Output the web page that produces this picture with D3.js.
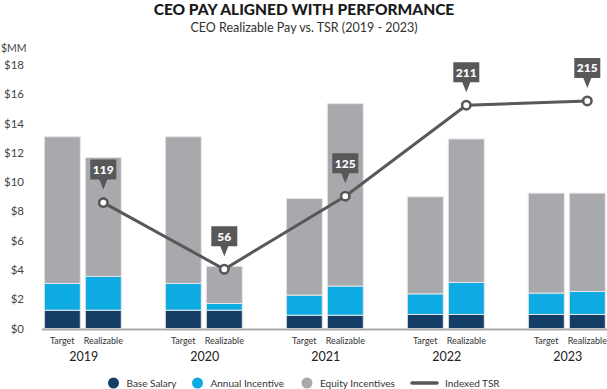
<!DOCTYPE html>
<html>
<head>
<meta charset="utf-8">
<script src="https://cdn.jsdelivr.net/npm/d3@7"></script>
<style>
  body { margin: 0; background: #fff; }
  text { font-family: Lato, "Noto Sans", sans-serif; fill: #333; }
</style>
</head>
<body>
<div id="chart"></div>
<script>
// CEO pay vs TSR, stacked bars + TSR line on a hidden 2nd scale

var years = ["2019", "2020", "2021", "2022", "2023"];
var kinds = ["Target", "Realizable"];
var seriesNames = ["Base Salary", "Annual Incentive", "Equity Incentives"];

// $MM, one entry per bar (year x kind)
var baseSalary = [1.25, 1.25, 1.25, 1.25, 0.91, 0.91, 0.96, 0.96, 0.96, 0.96];
var annualIncentive = [1.83, 2.31, 1.83, 0.46, 1.37, 1.99, 1.41, 2.19, 1.46, 1.57];
var equityIncentives = [10.02, 8.12, 10.02, 2.54, 6.6, 12.46, 6.63, 9.8, 6.83, 6.72];

var tsr = [119, 56, 125, 211, 215];
var yTicks = [0, 2, 4, 6, 8, 10, 12, 14, 16, 18];

var colors = ["#153e66", "#0eaae2", "#a7a9ac"];
var lineColor = "#58585a";

var width = 607, height = 389;
var margin = {top: 65, left: 43, bottom: 61};

var svg = d3.select("#chart").append("svg")
  .attr("width", width).attr("height", height);

// title
svg.append("text").attr("x", 304).attr("y", 15)
  .attr("text-anchor", "middle")
  .style("font-size", "15.5px").style("font-weight", 900).style("fill", "#1a1a1a")
  .text("CEO PAY ALIGNED WITH PERFORMANCE");
svg.append("text").attr("x", 304).attr("y", 32)
  .attr("text-anchor", "middle")
  .style("font-size", "12.5px").style("fill", "#333")
  .text("CEO Realizable Pay vs. TSR (2019 - 2023)");
svg.append("text").attr("x", 1).attr("y", 52)
  .style("font-size", "10.5px").style("fill", "#444")
  .text("$MM");

var y = d3.scaleLinear().domain([0, 18]).range([height - margin.bottom + 0.5, margin.top]);
var yTsr = d3.scaleLinear().domain([0, 249]).range([height - margin.bottom + 0.5, margin.top]);

var x0 = d3.scaleBand().domain(years).range([23, 628]);
var x1 = d3.scaleBand().domain(kinds).range([21.3, 98.3]).paddingInner(5 / 41);

// y axis labels
svg.append("g").selectAll("text").data(yTicks).enter().append("text")
  .attr("x", 24).attr("y", function(d) { return y(d) + 4; })
  .attr("text-anchor", "end")
  .style("font-size", "11.5px").style("fill", "#444")
  .text(function(d) { return "$" + d; });

// build rows for stacking
var rows = [];
years.forEach(function(yr, i) {
  kinds.forEach(function(k, j) {
    var idx = i * 2 + j;
    rows.push({year: yr, kind: k,
      "Base Salary": baseSalary[idx],
      "Annual Incentive": annualIncentive[idx],
      "Equity Incentives": equityIncentives[idx]});
  });
});

var stack = d3.stack().keys(seriesNames)(rows);

svg.append("g").selectAll("g").data(stack).enter().append("g")
  .attr("fill", function(d, i) { return colors[i]; })
  .selectAll("rect").data(function(d) { return d; }).enter().append("rect")
  .attr("x", function(d) { return x0(d.data.year) + x1(d.data.kind); })
  .attr("width", x1.bandwidth())
  .attr("y", function(d) { return y(d[1]); })
  .attr("height", function(d) { return y(d[0]) - y(d[1]); })
  .attr("stroke", "#e6e7e8").attr("stroke-width", 1);

// baseline
svg.append("line").attr("x1", 42).attr("x2", width)
  .attr("y1", y(0) + 1).attr("y2", y(0) + 1)
  .attr("stroke", "#aaaaaa").attr("stroke-width", 2);

// category labels
svg.append("g").selectAll("text").data(rows).enter().append("text")
  .attr("x", function(d) { return x0(d.year) + x1(d.kind) + x1.bandwidth() / 2; })
  .attr("y", 344)
  .attr("text-anchor", "middle")
  .style("font-size", "9px").style("fill", "#333")
  .text(function(d) { return d.kind; });

svg.append("g").selectAll("text").data(years).enter().append("text")
  .attr("x", function(d) { return x0(d) + x1.range()[0] + (x1.range()[1] - x1.range()[0]) / 2 + 1; })
  .attr("y", 361)
  .attr("text-anchor", "middle")
  .style("font-size", "12.5px").style("fill", "#222")
  .text(function(d) { return d; });

// TSR line
var pts = years.map(function(yr, i) {
  return {x: x0(yr) + x1("Realizable") + x1.bandwidth() / 2, y: yTsr(tsr[i]), v: tsr[i]};
});

svg.append("path").datum(pts)
  .attr("d", d3.line().x(function(d) { return d.x; }).y(function(d) { return d.y; }))
  .attr("fill", "none").attr("stroke", lineColor).attr("stroke-width", 3);

svg.append("g").selectAll("circle").data(pts).enter().append("circle")
  .attr("cx", function(d) { return d.x; }).attr("cy", function(d) { return d.y; })
  .attr("r", 4.2).attr("fill", "#fff")
  .attr("stroke", lineColor).attr("stroke-width", 2.6);

// callouts
var callout = svg.append("g").selectAll("g").data(pts).enter().append("g")
  .attr("transform", function(d) { return "translate(" + d.x + "," + d.y + ")"; });
callout.append("path")
  .attr("d", "M-13,-43 L13,-43 L13,-23 L4,-23 L0,-13 L-4,-23 L-13,-23 Z")
  .attr("fill", lineColor);
callout.append("text")
  .attr("y", -28.5).attr("text-anchor", "middle")
  .style("font-size", "12px").style("font-weight", 900).style("fill", "#fff")
  .text(function(d) { return d.v; });

// legend
var legend = svg.append("g").attr("transform", "translate(0,383)");
var legItems = [
  {name: "Base Salary", x: 113.5, color: colors[0]},
  {name: "Annual Incentive", x: 197.5, color: colors[1]},
  {name: "Equity Incentives", x: 307, color: colors[2]}
];
legItems.forEach(function(d) {
  legend.append("circle").attr("cx", d.x).attr("cy", 0).attr("r", 5.5).attr("fill", d.color);
  legend.append("text").attr("x", d.x + 13).attr("y", 3.5)
    .style("font-size", "10px").style("fill", "#333").text(d.name);
});
legend.append("line").attr("x1", 412).attr("x2", 437).attr("y1", 0).attr("y2", 0)
  .attr("stroke", lineColor).attr("stroke-width", 3.5).attr("stroke-linecap", "round");
legend.append("text").attr("x", 445).attr("y", 3.5)
  .style("font-size", "10px").style("fill", "#333").text("Indexed TSR");
</script>
</body>
</html>
